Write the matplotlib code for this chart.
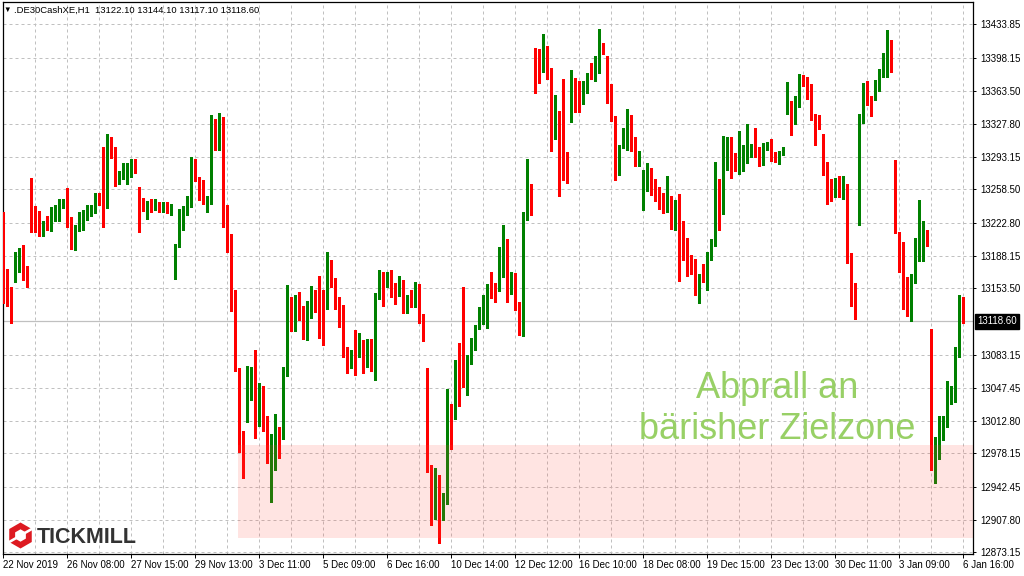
import matplotlib
matplotlib.use("Agg")
import matplotlib.pyplot as plt
import matplotlib.transforms as mtransforms
from matplotlib.patches import Rectangle, RegularPolygon, Polygon
import numpy as np

plt.rcParams['font.family'] = ['Liberation Sans', 'DejaVu Sans']

# DE30 H1 candles, 22 Nov 2019 .. 6 Jan 2020
opens = [
    13233, 13173, 13152, 13167, 13181, 13190, 13170, 13246, 13233, 13230,
    13215, 13223, 13219, 13235, 13238, 13240, 13255, 13229, 13211, 13217,
    13218, 13231, 13233, 13240, 13254, 13300, 13249, 13304, 13301, 13270,
    13274, 13276, 13283, 13286, 13249, 13245, 13241, 13243, 13241, 13242,
    13237, 13242, 13232, 13185, 13197, 13228, 13232, 13241, 13271, 13269,
    13257, 13243, 13256, 13325, 13310, 13331, 13241, 13210, 13151, 13062,
    12993, 13015, 13056, 13068, 13018, 13049, 13003, 12979, 12981, 12995,
    13008, 13065, 13142, 13110, 13144, 13129, 13112, 13128, 13149, 13166,
    13147, 13141, 13163, 13160, 13139, 13135, 13086, 13080, 13104, 13092,
    13095, 13072, 13099, 13077, 13142, 13164, 13160, 13170, 13153, 13151,
    13161, 13128, 13137, 13134, 13152, 13126, 13062, 12966, 12913, 12955,
    12922, 12925, 13022, 13016, 13075, 13065, 13049, 13079, 13094, 13110,
    13129, 13140, 13159, 13157, 13165, 13181, 13202, 13153, 13170, 13134,
    13110, 13227, 13254, 13397, 13394, 13387, 13411, 13385, 13327, 13340,
    13306, 13275, 13330, 13375, 13363, 13352, 13366, 13379, 13377, 13385,
    13413, 13398, 13365, 13332, 13295, 13303, 13307, 13336, 13308, 13285,
    13250, 13276, 13279, 13265, 13255, 13249, 13235, 13250, 13229, 13240,
    13205, 13205, 13189, 13185, 13148, 13167, 13161, 13189, 13210, 13265,
    13233, 13294, 13309, 13289, 13286, 13290, 13295, 13295, 13305, 13298,
    13290, 13302, 13304, 13294, 13293, 13297, 13351, 13352, 13338, 13346,
    13378, 13374, 13360, 13334, 13333, 13299, 13287, 13268, 13255, 13264,
    13250, 13264, 13191, 13155, 13228, 13329, 13358, 13358, 13353, 13364,
    13382, 13397, 13416, 13290, 13213, 13190, 13134, 13124, 13162, 13196,
    13203, 13212, 13103, 12962, 12979, 13006, 13011, 13046, 13047, 13086,
    13122.1]
highs = [
    13234, 13174, 13155, 13192, 13196, 13199, 13177, 13271, 13241, 13236,
    13225, 13230, 13240, 13242, 13248, 13248, 13260, 13229, 13221, 13235,
    13237, 13242, 13242, 13255, 13255, 13304, 13317, 13314, 13304, 13278,
    13286, 13286, 13291, 13291, 13261, 13249, 13246, 13248, 13248, 13245,
    13245, 13245, 13243, 13201, 13238, 13241, 13251, 13293, 13291, 13272,
    13268, 13251, 13338, 13333, 13340, 13335, 13242, 13211, 13152, 13069,
    13002, 13071, 13070, 13088, 13053, 13050, 13018, 12999, 13020, 13006,
    13070, 13157, 13144, 13146, 13150, 13135, 13140, 13156, 13152, 13166,
    13152, 13192, 13183, 13164, 13144, 13136, 13091, 13088, 13109, 13106,
    13099, 13100, 13100, 13149, 13173, 13171, 13171, 13173, 13159, 13167,
    13162, 13146, 13152, 13160, 13158, 13126, 13069, 12966, 12963, 12955,
    12936, 13046, 13031, 13077, 13095, 13155, 13083, 13101, 13115, 13134,
    13146, 13158, 13171, 13159, 13197, 13221, 13206, 13171, 13170, 13139,
    13235, 13291, 13264, 13409, 13408, 13424, 13411, 13387, 13359, 13342,
    13376, 13298, 13385, 13377, 13374, 13374, 13382, 13393, 13400, 13429,
    13414, 13400, 13370, 13336, 13306, 13324, 13344, 13338, 13314, 13299,
    13279, 13287, 13281, 13270, 13261, 13255, 13273, 13251, 13247, 13254,
    13225, 13207, 13189, 13185, 13169, 13179, 13192, 13206, 13288, 13270,
    13315, 13314, 13314, 13297, 13321, 13306, 13328, 13307, 13324, 13304,
    13308, 13309, 13312, 13298, 13299, 13303, 13373, 13352, 13358, 13381,
    13380, 13378, 13370, 13339, 13337, 13317, 13288, 13270, 13271, 13273,
    13273, 13264, 13191, 13159, 13339, 13371, 13374, 13358, 13375, 13386,
    13403, 13428, 13417, 13290, 13213, 13203, 13165, 13169, 13207, 13247,
    13225, 13215, 13110, 12996, 13018, 13018, 13055, 13050, 13091, 13146,
    13144.1]
lows = [
    13138, 13135, 13117, 13160, 13171, 13162, 13155, 13213, 13213, 13209,
    13209, 13215, 13214, 13225, 13225, 13239, 13219, 13195, 13194, 13214,
    13215, 13226, 13230, 13233, 13242, 13219, 13239, 13292, 13262, 13264,
    13270, 13264, 13272, 13276, 13213, 13236, 13227, 13235, 13237, 13234,
    13234, 13233, 13231, 13163, 13197, 13215, 13231, 13240, 13267, 13247,
    13243, 13234, 13243, 13300, 13300, 13219, 13192, 13129, 13066, 12980,
    12952, 13012, 13035, 12995, 13007, 13002, 12968, 12926, 12961, 12973,
    12993, 13060, 13108, 13108, 13120, 13100, 13099, 13122, 13128, 13101,
    13093, 13131, 13155, 13131, 13112, 13081, 13063, 13069, 13061, 13080,
    13064, 13070, 13066, 13056, 13142, 13135, 13155, 13144, 13137, 13145,
    13127, 13127, 13134, 13134, 13117, 13097, 12958, 12902, 12908, 12883,
    12907, 12924, 12983, 13015, 13028, 13049, 13040, 13073, 13088, 13110,
    13116, 13111, 13143, 13139, 13151, 13165, 13139, 13147, 13130, 13104,
    13103, 13226, 13231, 13361, 13372, 13383, 13376, 13299, 13312, 13252,
    13268, 13265, 13330, 13341, 13341, 13349, 13361, 13376, 13374, 13382,
    13402, 13350, 13331, 13269, 13274, 13302, 13300, 13299, 13283, 13283,
    13237, 13257, 13253, 13246, 13238, 13233, 13235, 13216, 13215, 13161,
    13184, 13167, 13169, 13146, 13138, 13160, 13152, 13184, 13198, 13215,
    13232, 13279, 13271, 13278, 13275, 13278, 13286, 13293, 13293, 13283,
    13284, 13300, 13289, 13288, 13285, 13295, 13339, 13316, 13328, 13346,
    13368, 13355, 13332, 13306, 13323, 13274, 13243, 13246, 13250, 13250,
    13248, 13180, 13135, 13121, 13221, 13329, 13348, 13336, 13353, 13363,
    13378, 13378, 13383, 13212, 13171, 13132, 13124, 13119, 13159, 13182,
    13182, 13198, 12960, 12947, 12972, 12992, 13006, 13031, 13033, 13080,
    13117.1]
closes = [
    13172, 13151, 13144, 13180, 13193, 13170, 13162, 13233, 13228, 13215,
    13223, 13220, 13237, 13239, 13240, 13247, 13230, 13210, 13218, 13221,
    13231, 13235, 13239, 13254, 13244, 13249, 13306, 13299, 13270, 13274,
    13277, 13283, 13286, 13282, 13242, 13240, 13243, 13241, 13242, 13237,
    13242, 13234, 13242, 13197, 13228, 13233, 13244, 13272, 13269, 13257,
    13243, 13248, 13326, 13311, 13330, 13240, 13209, 13151, 13068, 12992,
    12980, 13056, 13069, 13018, 13048, 13003, 12978, 12984, 12997, 12992,
    13065, 13144, 13110, 13144, 13129, 13113, 13132, 13150, 13136, 13146,
    13143, 13163, 13161, 13138, 13134, 13085, 13081, 13084, 13092, 13096,
    13073, 13099, 13077, 13142, 13163, 13160, 13170, 13152, 13152, 13161,
    13130, 13136, 13134, 13152, 13125, 13108, 12965, 12913, 12955, 12921,
    12926, 13022, 13016, 13075, 13068, 13049, 13078, 13095, 13110, 13128,
    13141, 13157, 13156, 13152, 13181, 13201, 13153, 13170, 13135, 13111,
    13226, 13254, 13232, 13393, 13387, 13411, 13385, 13327, 13339, 13307,
    13273, 13270, 13374, 13362, 13352, 13367, 13377, 13377, 13385, 13413,
    13408, 13365, 13331, 13295, 13303, 13308, 13336, 13306, 13285, 13292,
    13276, 13279, 13265, 13255, 13249, 13235, 13249, 13230, 13230, 13204,
    13203, 13187, 13185, 13148, 13167, 13161, 13189, 13203, 13265, 13234,
    13294, 13310, 13279, 13286, 13290, 13296, 13306, 13305, 13297, 13287,
    13304, 13305, 13293, 13290, 13298, 13301, 13353, 13338, 13347, 13379,
    13373, 13360, 13333, 13332, 13326, 13287, 13268, 13256, 13265, 13250,
    13264, 13191, 13155, 13139, 13330, 13358, 13356, 13353, 13365, 13384,
    13398, 13417, 13396, 13213, 13191, 13133, 13124, 13152, 13196, 13228,
    13213, 13205, 12962, 12980, 13007, 13012, 13047, 13050, 13087, 13122,
    13118.6]

date_labels = ["22 Nov 2019", "26 Nov 08:00", "27 Nov 15:00", "29 Nov 13:00",
               "3 Dec 11:00", "5 Dec 09:00", "6 Dec 16:00", "10 Dec 14:00",
               "12 Dec 12:00", "16 Dec 10:00", "18 Dec 08:00", "19 Dec 15:00",
               "23 Dec 13:00", "30 Dec 11:00", "3 Jan 09:00", "6 Jan 16:00"]
price_ticks = [13433.85, 13398.15, 13363.50, 13327.80, 13293.15, 13258.50,
               13222.80, 13188.15, 13153.50, 13083.15, 13047.45, 13012.80,
               12978.15, 12942.45, 12907.80, 12873.15]

last_price = 13118.60
header = ".DE30CashXE,H1  13122.10 13144.10 13117.10 13118.60"

# target zone (bar index where it starts, price band)
zone_start = 58.7
zone_low, zone_high = 12888.3, 12987.0

o = np.array(opens)
h = np.array(highs)
l = np.array(lows)
c = np.array(closes)
idx = np.arange(len(o))

fig = plt.figure(figsize=(10.24, 5.76), dpi=100)
ax = fig.add_axes([2.5 / 1024, 22 / 576, 970.5 / 1024, 552 / 576])
ax.set_xlim(-0.21, 242.4)
ax.set_ylim(12871.3, 13457.5)

cols = np.where(c >= o, '#008000', '#FF0000')
ax.vlines(idx, l, h, colors=cols, lw=0.75, zorder=3, antialiased=False)
body = np.maximum(np.abs(c - o), 1.0)
ax.bar(idx, body, bottom=np.minimum(o, c), width=0.75, color=cols,
       lw=0, zorder=4, antialiased=False)

# pink target zone, semi transparent over the candles
ax.add_patch(Rectangle((zone_start, zone_low), 250 - zone_start, zone_high - zone_low,
                       facecolor=(1.0, 0.3, 0.25, 0.15), edgecolor='none', zorder=5))

# grid
ax.set_axisbelow(True)
ax.set_xticks(np.arange(0, 241, 16))
ax.set_xticklabels(date_labels)
ax.set_xticks(np.arange(0, 241, 8), minor=True)
ax.set_yticks(price_ticks)
ax.set_yticklabels(["%.2f" % p for p in price_ticks])
ax.grid(True, which='both', axis='x', color='#C0C0C0', lw=0.72, linestyle=(0, (3, 3)))
ax.grid(True, which='major', axis='y', color='#C0C0C0', lw=0.72, linestyle=(0, (3, 3)))
ax.axhline(last_price, color='#C0C0C0', lw=0.9, zorder=2)

ax.yaxis.tick_right()
ax.tick_params(axis='x', which='major', direction='out', length=3, width=0.7,
               pad=1.5, labelsize=7, colors='black')
ax.tick_params(axis='x', which='minor', length=0)
ax.tick_params(axis='y', direction='out', length=2.5, width=0.7, pad=2.5,
               labelsize=7, colors='black')
for lbl in ax.get_xticklabels():
    lbl.set_horizontalalignment('left')
for sp in ax.spines.values():
    sp.set_color('black')
    sp.set_linewidth(0.9)

# current price box
trans = mtransforms.blended_transform_factory(ax.transAxes, ax.transData)
ax.text(1.0 + 4 / 970.5, last_price, "%.2f" % last_price, transform=trans,
        ha='left', va='center', fontsize=7, color='white', zorder=10, clip_on=False,
        bbox=dict(boxstyle='square,pad=0.25', fc='black', ec='black'))

# annotation
ax.text(0.798, 0.282, "Abprall an", transform=ax.transAxes, ha='center',
        va='baseline', fontsize=26, color='#98D066', zorder=6)
ax.text(0.798, 0.2083, "bärisher Zielzone", transform=ax.transAxes, ha='center',
        va='baseline', fontsize=26, color='#98D066', zorder=6)

# overlay in pixel units for header and logo
ov = fig.add_axes([0, 0, 1, 1], zorder=10)
ov.set_xlim(0, 1024)
ov.set_ylim(576, 0)
ov.axis('off')
ov.patch.set_alpha(0)

ov.text(7.5, 10.5, "\u25bc", fontsize=5.5, ha='center', va='center', color='black')
ov.text(14, 10.5, header, fontsize=6.8, ha='left', va='center', color='black')

# TICKMILL logo
cx, cy = 20.5, 535.5
ov.add_patch(RegularPolygon((cx, cy), 6, radius=13, orientation=0,
                            facecolor='#DD1A21', edgecolor='none'))
ov.add_patch(RegularPolygon((cx, cy), 6, radius=6.2, orientation=0,
                            facecolor='white', edgecolor='none'))
d = np.array([np.cos(np.radians(30)), -np.sin(np.radians(30))])
pp = np.array([-d[1], d[0]]) * 1.3
for s in (1, -1):
    a = np.array([cx, cy]) + s * d * 4
    b = np.array([cx, cy]) + s * d * 15
    ov.add_patch(Polygon([a + pp, b + pp, b - pp, a - pp], closed=True,
                         facecolor='white', edgecolor='none'))
ov.text(37, 543, "TICKMILL", fontsize=15.5, fontweight='bold', color='#333333',
        ha='left', va='baseline')

fig.savefig("out.png", dpi=100)
